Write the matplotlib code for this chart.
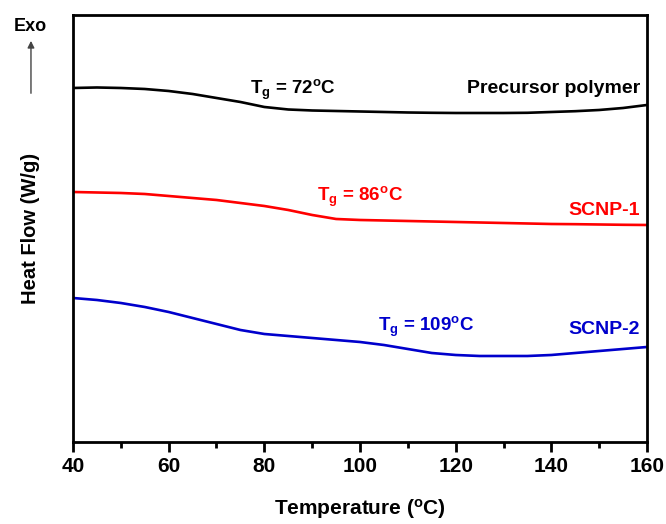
import numpy as np
import matplotlib
matplotlib.use("Agg")
import matplotlib.pyplot as plt

# DSC curves (arbitrary heat-flow units)
temp = [40, 45, 50, 55, 60, 65, 70, 75, 80, 85, 90, 95, 100, 105, 110,
        115, 120, 125, 130, 135, 140, 145, 150, 155, 160]

hf_precursor = [35.4, 35.45, 35.4, 35.3, 35.1, 34.8, 34.4, 34.0, 33.5, 33.25, 33.15,
                33.1, 33.05, 33.0, 32.95, 32.92, 32.9, 32.9, 32.9, 32.92, 33.0,
                33.08, 33.2, 33.4, 33.7]
hf_scnp1 = [25.0, 24.95, 24.9, 24.8, 24.6, 24.4, 24.2, 23.9, 23.6, 23.2, 22.7,
            22.3, 22.2, 22.15, 22.1, 22.05, 22.0, 21.95, 21.9, 21.85, 21.8,
            21.78, 21.75, 21.72, 21.7]
hf_scnp2 = [14.4, 14.2, 13.9, 13.5, 13.0, 12.4, 11.8, 11.2, 10.8, 10.6, 10.4,
            10.2, 10.0, 9.7, 9.3, 8.9, 8.7, 8.6, 8.6, 8.6, 8.7, 8.9, 9.1, 9.3, 9.5]

series = [
    (hf_precursor, "black", "Precursor polymer", "72"),
    (hf_scnp1, "#ff0000", "SCNP-1", "86"),
    (hf_scnp2, "#0000cc", "SCNP-2", "109"),
]
# label positions (x of Tg text, y of Tg text, y of sample name)
label_pos = [(77, 34.8, 34.9), (91, 24.1, 22.7), (103.8, 11.1, 10.8)]

plt.rcParams['font.family'] = ['Liberation Sans', 'DejaVu Sans']
plt.rcParams['font.weight'] = 'bold'
plt.rcParams['mathtext.default'] = 'regular'

fig = plt.figure(figsize=(6.66, 5.24), dpi=100)
ax = fig.add_axes([0.1096, 0.1565, 0.8619, 0.8149])

for (hf, col, name, tg), (tx, ty, ny) in zip(series, label_pos):
    ax.plot(temp, hf, color=col, lw=1.9)
    ax.text(tx, ty, r'T$_{g}$ = ' + tg + r'$^{o}$C', color=col, fontsize=13.5,
            fontweight='bold', va='baseline', ha='left')
    ax.text(158.5, ny, name, color=col, fontsize=14, fontweight='bold',
            va='baseline', ha='right')

ax.set_xlim(40, 160)
ax.set_ylim(0, 42.7)
ax.set_xticks(np.arange(40, 161, 20))
ax.set_xticks(np.arange(50, 160, 20), minor=True)
ax.set_yticks([])
ax.tick_params(axis='x', which='major', direction='out', length=7, width=2,
               labelsize=15, pad=4)
ax.tick_params(axis='x', which='minor', direction='out', length=4, width=2)
for lab in ax.get_xticklabels():
    lab.set_fontweight('bold')
for sp in ax.spines.values():
    sp.set_linewidth(2)

ax.set_xlabel(r'Temperature ($^{o}$C)', fontsize=15, fontweight='bold', labelpad=15)
ax.set_ylabel('Heat Flow (W/g)', fontsize=14.5, fontweight='bold', labelpad=24)

fig.text(0.045, 0.950, 'Exo', fontsize=13, fontweight='bold', ha='center', va='center')
fig.patches.append(matplotlib.patches.FancyArrowPatch(
    (0.0465, 0.822), (0.0465, 0.922), transform=fig.transFigure,
    arrowstyle='-|>', mutation_scale=10, color='#444444', lw=1, shrinkA=0, shrinkB=0))

fig.savefig("out.png", dpi=100)
